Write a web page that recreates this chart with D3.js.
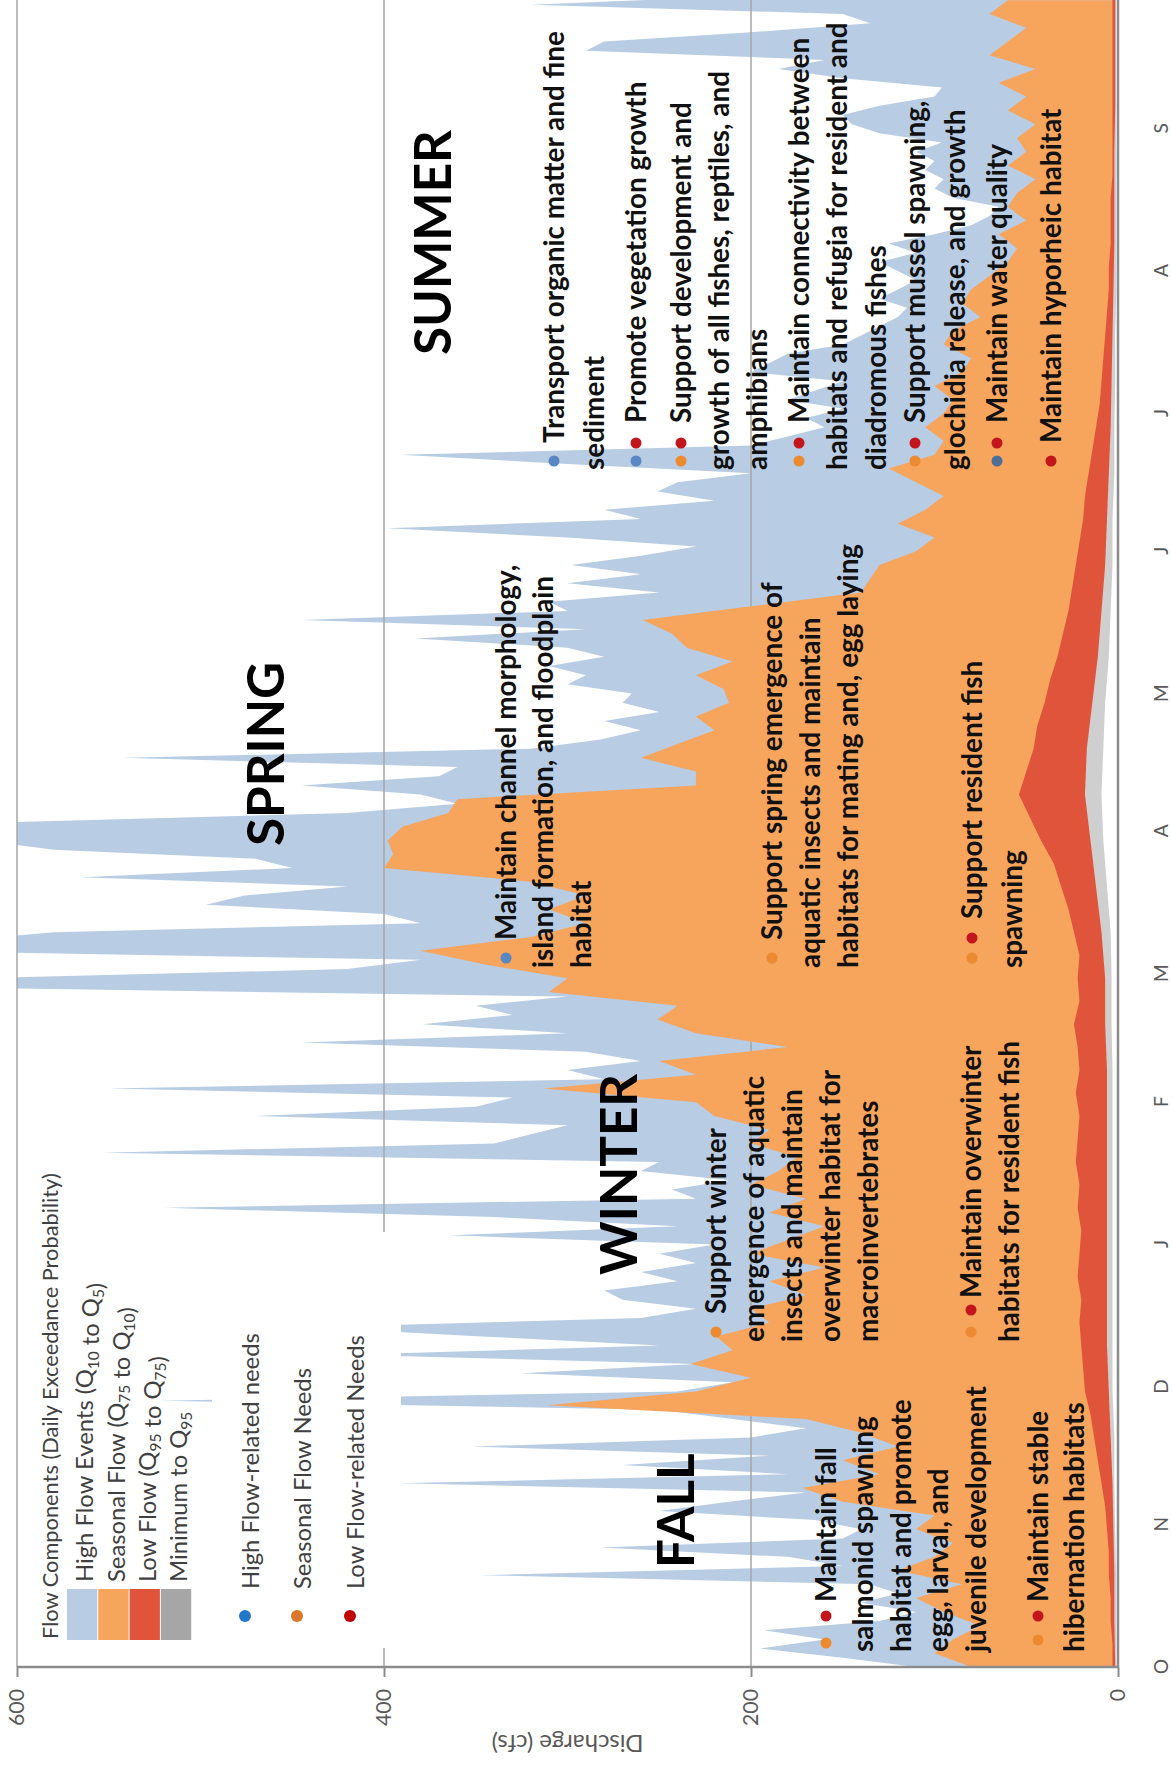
<!DOCTYPE html>
<html>
<head>
<meta charset="utf-8">
<script src="https://cdn.jsdelivr.net/npm/d3@7"></script>
<style>
  html, body { margin: 0; padding: 0; background: #fff; }
  svg { display: block; font-family: Lato, "Liberation Sans", sans-serif; }
</style>
</head>
<body>
<svg id="chart" width="1172" height="1769"></svg>
<script>
// ---- data (water year, day 0 = 1 Oct) ----
const monthLabels = ["O", "N", "D", "J", "F", "M", "A", "M", "J", "J", "A", "S"];
const monthStartDays = [0, 31, 61, 92, 123, 151, 182, 212, 243, 273, 304, 335];
const valueTicks = [0, 200, 400, 600];

// Q5 (top of high flow events), one value every 2 days
const q5Step = 2;
const q5 = [110,150,195,160,193,130,110,140,120,135, 347,150,180,282,150,140,165,250,212,170,
  391,180,270,190,352,200,170,210,250,522, 240,210,325,230,420,250,347,440,260,230,
  270,280,240,260,230,250,220,364,240,340, 520,230,243,212,260,250,554,340,320,300,
  470,350,330,550,280,300,260,290,445,300, 379,330,350,300,640,620,420,380,660,640,
  580,380,400,497,476,420,565,450,470,580, 620,640,600,420,360,380,445,370,360,542,
  320,282,260,280,250,270,265,300,290,310, 280,300,383,290,445,300,310,250,300,260,
  298,260,230,300,398,260,280,220,251,240, 200,300,391,200,180,160,170,150,180,165,
  150,200,190,180,150,140,130,120,115,130, 120,110,120,130,110,125,100,80,70,65,
  90,100,95,105,100,110,96,130,145,150, 130,100,96,150,185,160,290,280,200,135,
  150,320,200];

// Q10 (top of seasonal flow), one value every 3 days
const q10Step = 3;
const q10 = [80,100,90,75,95,110,85,120,100,90,110,
  100,150,172,130,150,120,140,170,311,230,
  200,233,210,219,190,200,170,190,160,200,
  180,160,190,170,200,185,175,200,190,220,
  230,313,230,250,180,230,251,240,310,300,
  345,380,320,290,310,290,320,400,395,398,
  390,365,360,230,230,260,240,220,230,212,
  215,230,210,235,243,259,200,140,135,130,
  110,100,120,105,95,110,125,100,95,105,
  95,90,100,85,80,95,90,75,85,80,
  70,60,55,65,50,60,55,45,60,50,
  55,45,60,50,65,45,70,60,50,70,60];

// Q75 (top of low flow), one value every 5 days
const q75Step = 5;
const q75 = [3,3,4,4,5,5,6,7,9,11,13,15,18,19,20,21,20,22,21,20,22,21,23,22,21,
  23,21,22,24,21,22,21,24,27,31,35,42,48,54,50,46,44,40,37,33,30,27,25,23,21,
  19,18,16,14,12,10,9,8,7,6,5,5,4,4,4,3,3,3,3,3,3,3,3,3];

// Q95 and minimum, one value every 10 days
const lowStep = 10;
const q95 = [1.5,2,2,2.5,3,4,5,6,6,6,6,6,6,6,7,7,9,12,15,18,17,14,11,9,7,6,5,4,3.5,3,2.5,2,2,2,1.5,1.5,1.5,1.5];
const qMin = [1,1,1,1.5,2,2,3,3,3,3,3,3,3,3,3.5,3.5,4,6,8,9,8,7,5,4,3,3,2,2,1.5,1.5,1,1,1,1,1,1,1,1];

// ---- layout ----
const svg = d3.select("#chart");
const plotW = 1676, plotH = 1101;      // chart drawn upright, then turned a quarter
const originX = 17, originY = 1667;
const g = svg.append("g").attr("transform", `translate(${originX},${originY}) rotate(-90)`);

const x = d3.scaleLinear().domain([0, 365]).range([0, plotW]);
const y = d3.scaleLinear().domain([0, 600]).range([plotH, 0]);

const colors = { high: "#b8cce4", seasonal: "#f7a45c", low: "#e0543c", min: "#cfcfcf", minKey: "#a6a6a6" };
const dotColors = { high: "#1f78c8", seasonal: "#d9772b", low: "#c00000" };

// fit a font size so a sample string gets a given length
function fitSize(str, weight, target) {
  const t = svg.append("text").attr("font-size", 100).attr("font-weight", weight).text(str);
  const len = t.node().getComputedTextLength();
  t.remove();
  return 100 * target / len;
}
const annFs = fitSize("Transport organic matter and fine", 700, 412);
const seasonFs = fitSize("SUMMER", 700, 225);
const titleFs = fitSize("Flow Components (Daily Exceedance Probability)", 400, 466);
const legFs = fitSize("High Flow-related needs", 400, 256);
const tickFs = fitSize("600", 400, 37);
const axisTitleFs = fitSize("Discharge (cfs)", 400, 152);

const toSeries = (vals, step) => vals.map((v, i) => ({ d: i * step, v }));
const area = d3.area().x(p => x(p.d)).y0(y(0)).y1(p => y(p.v));

svg.append("defs").append("clipPath").attr("id", "plotClip")
  .append("rect").attr("width", plotW).attr("height", plotH);

const plot = g.append("g").attr("clip-path", "url(#plotClip)");

plot.append("path").datum(toSeries(q5, q5Step)).attr("fill", colors.high).attr("d", area);

// gridlines
plot.selectAll(".grid").data([200, 400]).enter().append("line")
  .attr("x1", 0).attr("x2", plotW)
  .attr("y1", d => y(d)).attr("y2", d => y(d))
  .attr("stroke", "#a6a6a6").attr("stroke-width", 1.5);

plot.append("path").datum(toSeries(q10, q10Step)).attr("fill", colors.seasonal).attr("d", area);
plot.append("path").datum(toSeries(q75, q75Step)).attr("fill", colors.low).attr("d", area);
plot.append("path").datum(toSeries(q95, lowStep)).attr("fill", colors.min).attr("d", area);
plot.append("path").datum(toSeries(qMin, lowStep)).attr("fill", "#fff").attr("d", area);

// frame
g.append("line").attr("x1", 0).attr("x2", plotW).attr("y1", y(600)).attr("y2", y(600))
  .attr("stroke", "#a6a6a6").attr("stroke-width", 1.5);
g.append("line").attr("x1", 0).attr("x2", 0).attr("y1", 0).attr("y2", plotH)
  .attr("stroke", "#8c8c8c").attr("stroke-width", 2.5);
g.append("line").attr("x1", 0).attr("x2", plotW).attr("y1", plotH).attr("y2", plotH)
  .attr("stroke", "#8c8c8c").attr("stroke-width", 2.5);

// value axis
const yAxis = g.append("g")
  .call(d3.axisLeft(y).tickValues(valueTicks).tickSize(10).tickPadding(12));
yAxis.select(".domain").remove();
yAxis.attr("font-family", null).attr("font-size", tickFs);
yAxis.selectAll("line").attr("stroke", "#8c8c8c").attr("stroke-width", 2);
yAxis.selectAll("text").attr("fill", "#595959");

g.append("text")
  .attr("transform", `translate(-68,${plotH / 2}) rotate(-90)`)
  .attr("text-anchor", "middle").attr("font-size", axisTitleFs).attr("fill", "#595959")
  .text("Discharge (cfs)");

// month axis
const xAxis = g.append("g").attr("transform", `translate(0,${plotH})`)
  .call(d3.axisBottom(x).tickValues(monthStartDays).tickFormat((d, i) => monthLabels[i])
    .tickSize(0).tickPadding(36));
xAxis.select(".domain").remove();
xAxis.attr("font-family", null).attr("font-size", tickFs * 0.9);
xAxis.selectAll("text").attr("fill", "#595959");

// ---- legend: flow components ----
const leg = g.append("g").attr("font-size", legFs).attr("fill", "#404040");
leg.append("text").attr("x", 28).attr("y", 33 + titleFs * 0.35).attr("font-size", titleFs)
  .text("Flow Components (Daily Exceedance Probability)");
const keyRows = [
  { c: colors.high, parts: ["High Flow Events (Q", ["10"], " to Q", ["5"], ")"] },
  { c: colors.seasonal, parts: ["Seasonal Flow (Q", ["75"], " to Q", ["10"], ")"] },
  { c: colors.low, parts: ["Low Flow (Q", ["95"], " to Q", ["75"], ")"] },
  { c: colors.minKey, parts: ["Minimum to Q", ["95"]] }
];
keyRows.forEach((r, i) => {
  const top = 50 + i * 31.3;
  leg.append("rect").attr("x", 27).attr("y", top).attr("width", 51).attr("height", 30.3).attr("fill", r.c);
  const t = leg.append("text").attr("x", 85).attr("y", top + 18 + legFs * 0.35);
  r.parts.forEach(p => {
    if (Array.isArray(p)) {
      t.append("tspan").attr("font-size", legFs * 0.65).attr("dy", legFs * 0.22).text(p[0]);
      t.append("tspan").attr("dy", -legFs * 0.22).text("");
    } else {
      t.append("tspan").text(p);
    }
  });
});

// ---- legend: needs ----
const needs = g.append("g").attr("font-size", legFs).attr("fill", "#404040");
needs.append("rect").attr("x", 19).attr("y", 195).attr("width", 416).attr("height", 189).attr("fill", "#fff");
[["High Flow-related needs", dotColors.high, 228],
 ["Seasonal Flow Needs", dotColors.seasonal, 280],
 ["Low Flow-related Needs", dotColors.low, 333]].forEach(([label, c, cy]) => {
  needs.append("circle").attr("cx", 51).attr("cy", cy).attr("r", 6).attr("fill", c);
  needs.append("text").attr("x", 78).attr("y", cy + 6 + legFs * 0.35).text(label);
});

// ---- seasons and annotations (page positions turned into chart space) ----
const gx = py => originY - py;
const gy = px => px - originX;

const seasons = [
  { t: "FALL", px: 694, py: 1568 },
  { t: "WINTER", px: 637, py: 1275 },
  { t: "SPRING", px: 284, py: 846 },
  { t: "SUMMER", px: 451, py: 355 }
];
g.append("g").selectAll("text").data(seasons).enter().append("text")
  .attr("x", d => gx(d.py)).attr("y", d => gy(d.px))
  .attr("font-size", seasonFs).attr("font-weight", 700).attr("fill", "#000")
  .text(d => d.t);

const C = { b: "#5a86c4", b2: "#4f6e96", o: "#ec8a2f", r: "#c3161c" };
const notes = [
  { lines: ["Maintain fall", "salmonid spawning", "habitat and promote", "egg, larval, and", "juvenile development"],
    px: 826, dx: 37.5, ty: 1602, cy: 1652, dots: [["o", 1643], ["r", 1616]] },
  { lines: ["Maintain stable", "hibernation habitats"],
    px: 1038, dx: 36, ty: 1602, cy: 1652, dots: [["o", 1640], ["r", 1616]] },
  { lines: ["Support winter", "emergence of aquatic", "insects and maintain", "overwinter habitat for", "macroinvertebrates"],
    px: 716, dx: 38, ty: 1314, cy: 1342, dots: [["o", 1332]] },
  { lines: ["Maintain overwinter", "habitats for resident fish"],
    px: 971, dx: 38, ty: 1298, cy: 1342, dots: [["o", 1332], ["r", 1310]] },
  { lines: ["Maintain channel morphology,", "island formation, and floodplain", "habitat"],
    px: 506, dx: 37.5, ty: 940, cy: 968, dots: [["b", 958]] },
  { lines: ["Support spring emergence of", "aquatic insects and maintain", "habitats for mating and, egg laying"],
    px: 772, dx: 38, ty: 940, cy: 968, dots: [["o", 958]] },
  { lines: ["Support resident fish", "spawning"],
    px: 972, dx: 40, ty: 919, cy: 968, dots: [["o", 958], ["r", 938]] },
  { lines: ["Transport organic matter and fine", "sediment"],
    px: 554, dx: 40, ty: 443, cy: 470, dots: [["b", 461]] },
  { lines: ["Promote vegetation growth"],
    px: 636, dx: 38, ty: 423, cy: 470, dots: [["b", 461], ["r", 443]] },
  { lines: ["Support development and", "growth of all fishes, reptiles, and", "amphibians"],
    px: 681, dx: 38, ty: 423, cy: 470, dots: [["o", 461], ["r", 443]] },
  { lines: ["Maintain connectivity between", "habitats and refugia for resident and", "diadromous fishes"],
    px: 799, dx: 38.5, ty: 423, cy: 470, dots: [["o", 461], ["r", 443]] },
  { lines: ["Support mussel spawning,", "glochidia release, and growth"],
    px: 915, dx: 40, ty: 423, cy: 470, dots: [["o", 461], ["r", 443]] },
  { lines: ["Maintain water quality"],
    px: 997, dx: 38, ty: 423, cy: 470, dots: [["b2", 461], ["r", 443]] },
  { lines: ["Maintain hyporheic habitat"],
    px: 1051, dx: 38, ty: 443, cy: 470, dots: [["r", 461]] }
];
const ann = g.append("g").attr("font-size", annFs).attr("font-weight", 700).attr("fill", "#111");
notes.forEach(n => {
  n.dots.forEach(([c, py]) => {
    ann.append("circle").attr("cx", gx(py)).attr("cy", gy(n.px)).attr("r", 5.5).attr("fill", C[c]);
  });
  n.lines.forEach((line, i) => {
    ann.append("text")
      .attr("x", gx(i === 0 ? n.ty : n.cy))
      .attr("y", gy(n.px + i * n.dx) + annFs * 0.35)
      .text(line);
  });
});
</script>
</body>
</html>
